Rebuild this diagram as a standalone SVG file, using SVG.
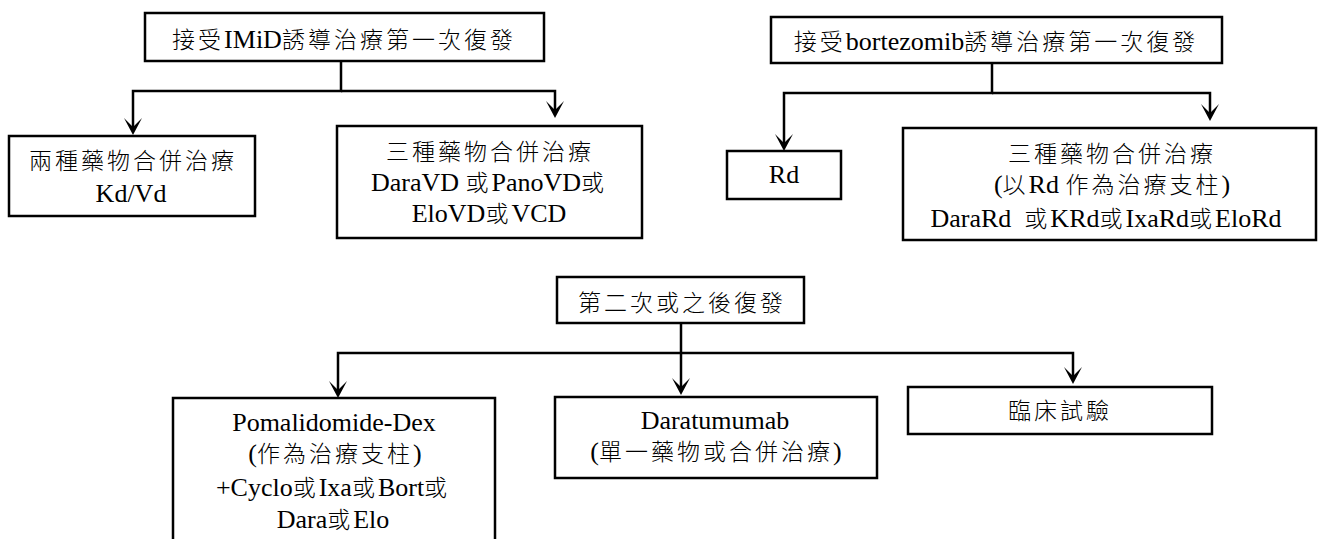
<svg xmlns="http://www.w3.org/2000/svg" width="1319" height="539" viewBox="0 0 1319 539">
<style>
.box{fill:#fff;stroke:#000;stroke-width:2.5}
.t{font-family:"Liberation Serif","Noto Sans CJK TC",serif;font-size:26px;fill:#000;text-anchor:middle;white-space:pre}
.k{font-family:"Noto Sans CJK TC","Noto Sans CJK SC",sans-serif;font-size:23px;font-weight:300;letter-spacing:3px}
.c{fill:none;stroke:#000;stroke-width:2.5;stroke-linejoin:miter}
</style>
<defs>
<marker id="ah" viewBox="-18 -10 19 20" refX="-6" refY="0" markerWidth="19" markerHeight="20" markerUnits="userSpaceOnUse" orient="auto">
<path d="M0,0 L-17,-9 L-8,0 L-17,9 Z" fill="#000"/>
</marker>
</defs>
<rect width="1319" height="539" fill="#fff"/>
<g id="connectors">
<path class="c" d="M341,61 V91 H133 V129" marker-end="url(#ah)"/>
<path class="c" d="M341,91 H555 V112" marker-end="url(#ah)"/>
<path class="c" d="M992,63 V93 H784 V145" marker-end="url(#ah)"/>
<path class="c" d="M992,93 H1210 V115" marker-end="url(#ah)"/>
<path class="c" d="M681,323 V389" marker-end="url(#ah)"/>
<path class="c" d="M681,353 H338 V392" marker-end="url(#ah)"/>
<path class="c" d="M681,353 H1073 V378" marker-end="url(#ah)"/>
</g>
<g id="n1">
<rect class="box" x="145" y="13" width="399" height="48"/>
<text class="t" x="344" y="48"><tspan class="k">接受</tspan>IMiD<tspan class="k">誘導治療第一次復發</tspan></text>
</g>
<g id="n2">
<rect class="box" x="9" y="136" width="246" height="80"/>
<text class="t" x="133" y="169"><tspan class="k">兩種藥物合併治療</tspan></text>
<text class="t" x="131" y="202">Kd/Vd</text>
</g>
<g id="n3">
<rect class="box" x="337" y="126" width="305" height="112"/>
<text class="t" x="490" y="160"><tspan class="k">三種藥物合併治療</tspan></text>
<text class="t" x="489" y="191">DaraVD <tspan class="k">或</tspan>PanoVD<tspan class="k">或</tspan></text>
<text class="t" x="489" y="222">EloVD<tspan class="k">或</tspan>VCD</text>
</g>
<g id="n4">
<rect class="box" x="771" y="17" width="451" height="46"/>
<text class="t" x="996" y="50"><tspan class="k">接受</tspan>bortezomib<tspan class="k">誘導治療第一次復發</tspan></text>
</g>
<g id="n5">
<rect class="box" x="727" y="151" width="114" height="48"/>
<text class="t" x="784" y="183">Rd</text>
</g>
<g id="n6">
<rect class="box" x="903" y="128" width="413" height="112"/>
<text class="t" x="1112" y="162"><tspan class="k">三種藥物合併治療</tspan></text>
<text class="t" x="1112" y="193">(<tspan class="k">以</tspan>Rd <tspan class="k">作為治療支柱</tspan>)</text>
<text class="t" x="1106" y="227">DaraRd  <tspan class="k">或</tspan>KRd<tspan class="k">或</tspan>IxaRd<tspan class="k">或</tspan>EloRd</text>
</g>
<g id="n7">
<rect class="box" x="557" y="277" width="247" height="46"/>
<text class="t" x="682" y="311"><tspan class="k">第二次或之後復發</tspan></text>
</g>
<g id="n8">
<rect class="box" x="173" y="398" width="322" height="170"/>
<text class="t" x="334" y="431">Pomalidomide-Dex</text>
<text class="t" x="335" y="462">(<tspan class="k">作為治療支柱</tspan>)</text>
<text class="t" x="333" y="496">+Cyclo<tspan class="k">或</tspan>Ixa<tspan class="k">或</tspan>Bort<tspan class="k">或</tspan></text>
<text class="t" x="333" y="528">Dara<tspan class="k">或</tspan>Elo</text>
</g>
<g id="n9">
<rect class="box" x="555" y="397" width="322" height="81"/>
<text class="t" x="715" y="429">Daratumumab</text>
<text class="t" x="716" y="460">(<tspan class="k">單一藥物或合併治療</tspan>)</text>
</g>
<g id="n10">
<rect class="box" x="908" y="387" width="304" height="47"/>
<text class="t" x="1060" y="419"><tspan class="k">臨床試驗</tspan></text>
</g>
</svg>
